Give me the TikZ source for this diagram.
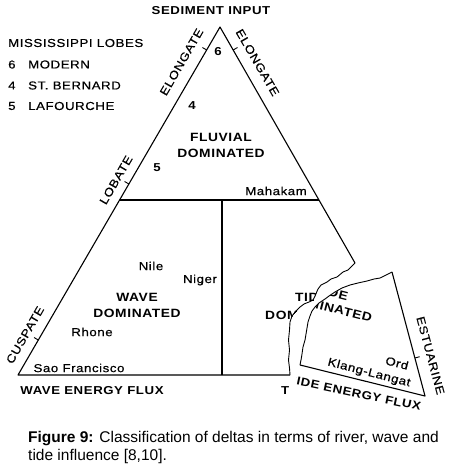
\documentclass[tikz,border=0pt]{standalone}
\usepackage{fontspec}
\setmainfont{Liberation Sans}
\newfontfamily\lettering[FakeStretch=1.15,LetterSpace=5,FakeBold=0.5]{Liberation Sans}
\newfontfamily\letterbold[FakeStretch=1.15,LetterSpace=5,UprightFont=* Bold]{Liberation Sans}

\tikzset{
  edge/.style={line width=1.1pt, line join=round},
  torn/.style={line width=0.9pt, line join=round},
  tickmark/.style={line width=0.9pt},
  lab/.style={font=\lettering\fontsize{11.5}{13}\selectfont, inner sep=0pt},
  head/.style={font=\letterbold\fontsize{11.5}{13}\selectfont, inner sep=0pt},
  zone/.style={font=\letterbold\fontsize{12}{16}\selectfont, inner sep=0pt, align=center},
  capt/.style={font=\fontsize{15.5}{18}\selectfont, inner sep=0pt, anchor=base west},
}

\begin{document}
\begin{tikzpicture}[x=1pt,y=-1pt]
\useasboundingbox (0,0) rectangle (450,473);

% Define points
\coordinate (apex) at (220,27);
\coordinate (bl) at (18,375);
\coordinate (ml) at (119.6,200);
\coordinate (mr) at (319,200);
\coordinate (mt) at (222,200);
\coordinate (mb) at (222,375);
\coordinate (tr) at (355,263);
\coordinate (cut) at (290,375);
\coordinate (ra) at (392,272);
\coordinate (rb) at (425,396);
\coordinate (rc) at (300,365);

% Draw the left piece of the triangle
\draw[edge] (tr) -- (apex) -- (bl) -- (cut);
\draw[edge] (ml) -- (mr);
\draw[edge] (mt) -- (mb);
\draw[torn] (tr) -- (352,266) -- (348,270) -- (343,272) -- (337,277) -- (331,279) -- (327,282) -- (321,285) -- (318,289) -- (315,296) -- (313,300) -- (309,302) -- (304,304) -- (300,307) -- (296,311) -- (292,316) -- (290,322) -- (289.5,330) -- (288.5,340) -- (289.5,350) -- (288.5,360) -- (289.5,368) -- (cut);

% Draw the torn-off corner
\draw[edge] (ra) -- (rb) -- (rc);
\draw[torn] (ra) -- (386,275) -- (380,278) -- (374,279) -- (367,281) -- (358,283) -- (350,285) -- (342,288) -- (335,292) -- (329,296) -- (325,299) -- (319,303) -- (315,307) -- (312,311) -- (310,316) -- (308,322) -- (307,328) -- (306,334) -- (305,340) -- (303,347) -- (302,354) -- (301,360) -- (rc);

% Tick marks on the sides
\draw[tickmark] (206.7,50) -- (202.4,47.5);
\draw[tickmark] (128.9,184) -- (124.6,181.5);
\draw[tickmark] (38.3,340) -- (34,337.5);
\draw[tickmark] (233.2,50) -- (237.5,47.5);
\draw[tickmark] (414.9,358) -- (419.7,356.7);

% Labels along the sides
\node[head] (sed) at (211,11) {SEDIMENT INPUT};
\node[lab, rotate=60] (elo1) at (181.5,62) {ELONGATE};
\node[lab, rotate=-60] (elo2) at (257.5,62.5) {ELONGATE};
\node[lab, rotate=60] (lob) at (116,180) {LOBATE};
\node[lab, rotate=60] (cus) at (25,335) {CUSPATE};
\node[head] (wef) at (92,391) {WAVE ENERGY FLUX};

% Mississippi lobes
\node[lab, anchor=west] (leg) at (8,43) {MISSISSIPPI LOBES};
\node[lab, anchor=west] (leg6) at (8,64.5) {6};
\node[lab, anchor=west] at (28,64.5) {MODERN};
\node[lab, anchor=west] (leg4) at (8,85.5) {4};
\node[lab, anchor=west] at (28,85.5) {ST. BERNARD};
\node[lab, anchor=west] (leg5) at (8,106) {5};
\node[lab, anchor=west] at (28,106) {LAFOURCHE};
\node[head] (lobe6) at (218,52) {6};
\node[head] (lobe4) at (192,106) {4};
\node[head] (lobe5) at (157,168) {5};

% Fields and deltas
\node[zone] (fluv) at (221,145) {FLUVIAL\\DOMINATED};
\node[lab, anchor=east] (mah) at (307,191) {Mahakam};
\node[lab] (nile) at (151,266) {Nile};
\node[lab] (niger) at (200,280) {Niger};
\node[zone] (wave) at (137,305) {WAVE\\DOMINATED};
\node[lab] (rhone) at (92,332) {Rhone};
\node[lab] (sao) at (79,368) {Sao Francisco};

% Tide texts on the left piece
\begin{scope}
  \clip (200,230) -- (345,230) -- (tr) -- (352,266) -- (348,270) -- (343,272) -- (337,277) -- (331,279) -- (327,282) -- (321,285) -- (318,289) -- (315,296) -- (313,300) -- (309,302) -- (304,304) -- (300,307) -- (296,311) -- (292,316) -- (290,322) -- (289.5,330) -- (288.5,340) -- (289.5,350) -- (288.5,360) -- (289.5,368) -- (cut) -- (289,385) -- (289,425) -- (200,425) -- cycle;
  \node[zone, anchor=west] (tide1) at (295,297) {TIDE};
  \node[zone, anchor=west] (dom1) at (265,315) {DOMINATED};
  \node[head, anchor=west] (tef1) at (281,391) {TIDE ENERGY FLUX};
\end{scope}

% Tide texts on the torn-off corner
\begin{scope}
  \clip (ra) -- (386,275) -- (380,278) -- (374,279) -- (367,281) -- (358,283) -- (350,285) -- (342,288) -- (335,292) -- (329,296) -- (325,299) -- (319,303) -- (315,307) -- (312,311) -- (310,316) -- (308,322) -- (307,328) -- (306,334) -- (305,340) -- (303,347) -- (302,354) -- (301,360) -- (rc) -- (296,378) -- (294,425) -- (450,425) -- (450,250) -- (392,250) -- cycle;
  \node[zone, anchor=east, rotate=-14.5] (tide2) at (348,297) {TIDE};
  \node[zone, anchor=east, rotate=-14.5] (dom2) at (372,318.5) {DOMINATED};
  \node[head, anchor=east, rotate=-12] (tef2) at (421,407) {TIDE ENERGY FLUX};
\end{scope}
\node[lab, rotate=-14.5] (ord) at (397,363) {Ord};
\node[lab, rotate=-14.5] (klang) at (369,373) {Klang-Langat};
\node[lab, rotate=-75] (est) at (430.5,355.5) {ESTUARINE};

% Caption
\node[capt] (cap1) at (28,442) {\textbf{Figure 9:} Classification of deltas in terms of river, wave and};
\node[capt] (cap2) at (28,460) {tide influence [8,10].};
\end{tikzpicture}
\end{document}
